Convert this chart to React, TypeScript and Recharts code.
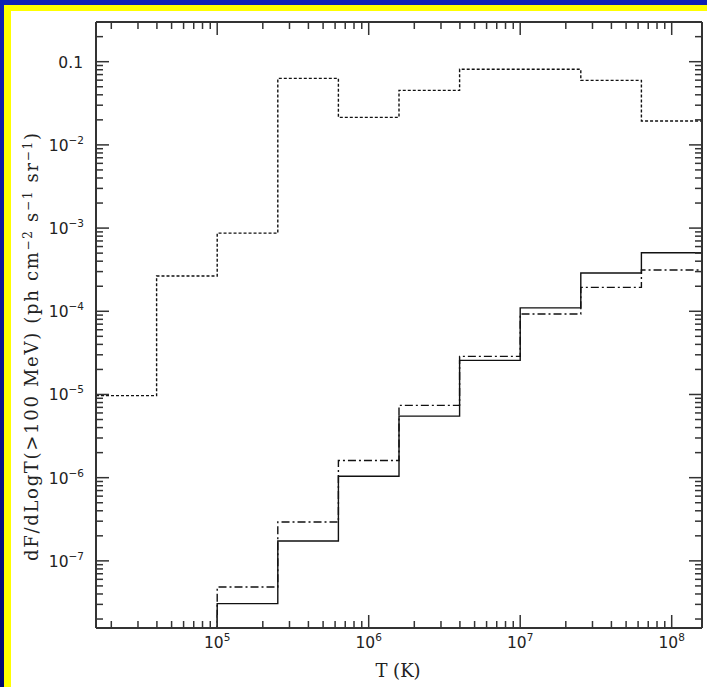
import React from 'react';
import { ComposedChart, Line, XAxis, YAxis } from 'recharts';

// bin edges in log10(T)
const binEdgesLog = [4.2, 4.6, 5.0, 5.4, 5.8, 6.2, 6.6, 7.0, 7.4, 7.8, 8.2];
// per-bin values (10 bins)
const dottedSeries = [9.7e-6, 2.65e-4, 8.7e-4, 0.063, 0.0214, 0.0452, 0.081, 0.081, 0.0596, 0.0194];
const solidSeries = [null, 5e-9, 3.06e-8, 1.73e-7, 1.04e-6, 5.5e-6, 2.57e-5, 1.1e-4, 2.88e-4, 5.06e-4];
const dashDotSeries = [null, 5e-9, 4.85e-8, 2.93e-7, 1.61e-6, 7.4e-6, 2.87e-5, 9.27e-5, 1.94e-4, 3.13e-4];

const xMajorExps = [5, 6, 7, 8];
const yMajorExps = [-1, -2, -3, -4, -5, -6, -7];
const xDomain = [Math.pow(10, 4.2), Math.pow(10, 8.2)];
const yDomain = [1.56e-8, 0.3];

const data = binEdgesLog.map((e, i) => {
  const k = Math.min(i, dottedSeries.length - 1);
  return {
    x: Math.pow(10, e),
    dotted: dottedSeries[k],
    solid: solidSeries[k],
    dashdot: dashDotSeries[k],
  };
});

function logTicks(lo: number, hi: number) {
  const out: number[] = [];
  for (let n = Math.floor(Math.log10(lo)); n <= Math.ceil(Math.log10(hi)); n++) {
    for (let k = 1; k <= 9; k++) {
      const v = k * Math.pow(10, n);
      if (v >= lo * 0.999 && v <= hi * 1.001) out.push(v);
    }
  }
  return out;
}
const xTicks = logTicks(xDomain[0], xDomain[1]);
const yTicks = logTicks(yDomain[0], yDomain[1]);

const isMajor = (v: number) => {
  const l = Math.log10(v);
  return Math.abs(l - Math.round(l)) < 1e-6;
};

const FONT = '"DejaVu Sans", "Liberation Sans", sans-serif';
const SERIF = '"DejaVu Serif", "Liberation Serif", serif';
const TICKCOL = '#333';
const LABCOL = '#222';

const makeTick = (side: 'bottom' | 'top' | 'left' | 'right') => (props: any) => {
  const { x, y, payload } = props;
  const v = payload.value;
  const major = isMajor(v);
  const len = major ? 13 : 7;
  let line;
  if (side === 'bottom') line = <line x1={x} y1={y} x2={x} y2={y - len} stroke={TICKCOL} strokeWidth={1.5} />;
  else if (side === 'top') line = <line x1={x} y1={y} x2={x} y2={y + len} stroke={TICKCOL} strokeWidth={1.5} />;
  else if (side === 'left') line = <line x1={x} y1={y} x2={x + len} y2={y} stroke={TICKCOL} strokeWidth={1.5} />;
  else line = <line x1={x} y1={y} x2={x - len} y2={y} stroke={TICKCOL} strokeWidth={1.5} />;
  let label = null;
  const exp = Math.round(Math.log10(v));
  if (major && side === 'bottom' && xMajorExps.includes(exp)) {
    label = (
      <text x={x} y={y + 20} textAnchor="middle" fontFamily={FONT} fontSize={15.5} fill={LABCOL}>
        10<tspan dy={-7} fontSize={10.5}>{String(exp)}</tspan>
      </text>
    );
  }
  if (major && side === 'left' && yMajorExps.includes(exp)) {
    label =
      exp === -1 ? (
        <text x={x - 13} y={y + 6} textAnchor="end" fontFamily={FONT} fontSize={15.5} fill={LABCOL}>0.1</text>
      ) : (
        <text x={x - 12} y={y + 6} textAnchor="end" fontFamily={FONT} fontSize={15.5} fill={LABCOL}>
          10<tspan dy={-7} fontSize={10.5}>{'\u2212' + String(-exp)}</tspan>
        </text>
      );
  }
  return (
    <g>
      {line}
      {label}
    </g>
  );
};

export default function App() {
  return (
    <div style={{ position: 'absolute', left: 0, top: 0, width: 707, height: 687, background: 'linear-gradient(#1020b4, #0a1488 60%, #000a70)' }}>
      <div style={{ position: 'absolute', left: 4, top: 5, right: 0, bottom: 0, background: '#ffff00' }} />
      <div style={{ position: 'absolute', left: 11, top: 11, right: 0, bottom: 0, background: '#ffffff' }} />
      <div style={{ position: 'absolute', left: 0, top: 0 }}>
        <ComposedChart width={707} height={687} data={data} margin={{ top: 12, right: 0, bottom: 19, left: 36 }}>
          <XAxis
            xAxisId="b"
            dataKey="x"
            type="number"
            scale="log"
            domain={xDomain}
            allowDataOverflow
            ticks={xTicks}
            interval={0}
            orientation="bottom"
            height={40}
            tickSize={0}
            tickMargin={0}
            tickLine={false}
            axisLine={{ stroke: TICKCOL, strokeWidth: 2 }}
            tick={makeTick('bottom')}
          />
          <XAxis
            xAxisId="t"
            dataKey="x"
            type="number"
            scale="log"
            domain={xDomain}
            allowDataOverflow
            ticks={xTicks}
            interval={0}
            orientation="top"
            height={10}
            tickSize={0}
            tickMargin={0}
            tickLine={false}
            axisLine={{ stroke: TICKCOL, strokeWidth: 2 }}
            tick={makeTick('top')}
          />
          <YAxis
            yAxisId="l"
            type="number"
            scale="log"
            domain={yDomain}
            allowDataOverflow
            ticks={yTicks}
            interval={0}
            orientation="left"
            width={60}
            tickSize={0}
            tickMargin={0}
            tickLine={false}
            axisLine={{ stroke: TICKCOL, strokeWidth: 2 }}
            tick={makeTick('left')}
          />
          <YAxis
            yAxisId="r"
            type="number"
            scale="log"
            domain={yDomain}
            allowDataOverflow
            ticks={yTicks}
            interval={0}
            orientation="right"
            width={5}
            tickSize={0}
            tickMargin={0}
            tickLine={false}
            axisLine={{ stroke: TICKCOL, strokeWidth: 2 }}
            tick={makeTick('right')}
          />
          <Line xAxisId="b" yAxisId="l" dataKey="dotted" type="stepAfter" stroke="#111" strokeWidth={1.4} strokeDasharray="3 2" dot={false} isAnimationActive={false} />
          <Line xAxisId="b" yAxisId="l" dataKey="solid" type="stepAfter" stroke="#111" strokeWidth={1.4} dot={false} isAnimationActive={false} />
          <Line xAxisId="b" yAxisId="l" dataKey="dashdot" type="stepAfter" stroke="#111" strokeWidth={1.4} strokeDasharray="8 3 2 3" dot={false} isAnimationActive={false} />
        </ComposedChart>
      </div>
      <svg width={707} height={687} style={{ position: 'absolute', left: 0, top: 0, pointerEvents: 'none' }}>
        <text
          x={0}
          y={0}
          transform="translate(38 347) rotate(-90)"
          textAnchor="middle"
          fontFamily={SERIF}
          fontSize={18}
          fill={LABCOL}
          textLength={428}
          lengthAdjust="spacing"
        >
          dF/dLogT(&gt;100 MeV) (ph cm<tspan dy={-6} fontSize={12}>{'\u22122'}</tspan>
          <tspan dy={6}> s</tspan>
          <tspan dy={-6} fontSize={12}>{'\u22121'}</tspan>
          <tspan dy={6}> sr</tspan>
          <tspan dy={-6} fontSize={12}>{'\u22121'}</tspan>
          <tspan dy={6}>)</tspan>
        </text>
        <text x={398} y={677} textAnchor="middle" fontFamily={SERIF} fontSize={18} fill={LABCOL}>
          T (K)
        </text>
      </svg>
    </div>
  );
}
